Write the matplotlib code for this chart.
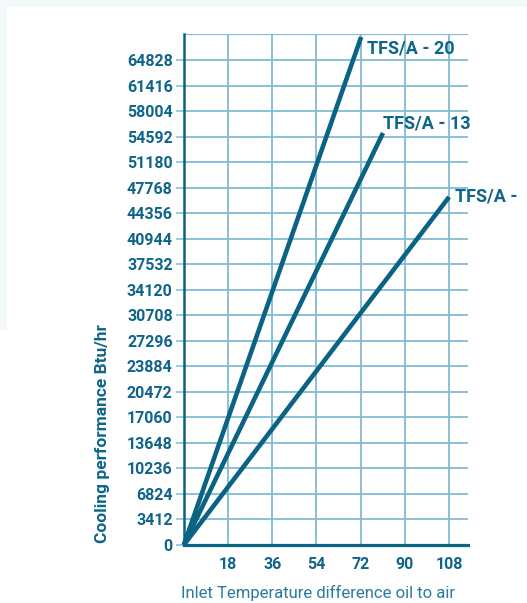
import matplotlib
matplotlib.use("Agg")
import matplotlib.pyplot as plt
from matplotlib.patches import Rectangle

# ---- data ----
series_names = ["TFS/A - 20", "TFS/A - 13", "TFS/A -"]
series_x = [[0, 72.2], [0, 81.1], [0, 108.0]]
series_y = [[0, 67900], [0, 55070], [0, 46520]]
y_ticks = [0, 3412, 6824, 10236, 13648, 17060, 20472, 23884, 27296, 30708,
           34120, 37532, 40944, 44356, 47768, 51180, 54592, 58004, 61416, 64828]
x_ticks = [18, 36, 54, 72, 90, 108]
x_label = "Inlet Temperature difference oil to air"
y_label = "Cooling performance Btu/hr"

DARK = "#0b6384"
GRID = "#80bcd4"
TXT = "#0f6589"
FAM = ["Roboto", "DejaVu Sans"]

W, H = 527, 603
fig = plt.figure(figsize=(W / 100, H / 100), dpi=100, facecolor="white")
# faint light border strips
fig.patches.append(Rectangle((0, 1 - 7 / H), 1, 7 / H, transform=fig.transFigure,
                             facecolor="#f3f8fb", edgecolor="none", zorder=-10))
fig.patches.append(Rectangle((0, 1 - 330 / H), 7 / W, 330 / H, transform=fig.transFigure,
                             facecolor="#f3f8fb", edgecolor="none", zorder=-10))

ax = fig.add_axes([183.8 / W, 1 - 545 / H, (468 - 183.8) / W, (545 - 34) / H])
ax.set_xlim(0, 115.7)
ax.set_ylim(0, 68300)

ax.set_yticks(y_ticks)
ax.set_xticks(x_ticks)
ax.set_yticklabels([str(v) for v in y_ticks])
ax.set_xticklabels([str(v) for v in x_ticks])
ax.grid(True, color=GRID, linewidth=1.3, zorder=0)
# top boundary line like a grid line
ax.axhline(68240, color=GRID, linewidth=1.6, zorder=1)

for s in ["right", "top"]:
    ax.spines[s].set_visible(False)
ax.spines["left"].set_color(DARK)
ax.spines["left"].set_linewidth(1.8)
ax.spines["bottom"].set_color(DARK)
ax.spines["bottom"].set_linewidth(2.3)
ax.spines["left"].set_zorder(5)
ax.spines["bottom"].set_zorder(5)

ax.tick_params(axis="y", length=6, width=1.1, color=GRID, pad=2,
               labelcolor=TXT, labelsize=11.5)
ax.tick_params(axis="x", length=0, pad=8.5, labelcolor=TXT, labelsize=11.5)
for lab in ax.get_yticklabels() + ax.get_xticklabels():
    lab.set_family(FAM)
    lab.set_fontweight("bold")

offsets = [(4, -8), (0, 7), (4, 0)]
for name, xs, ys, off in zip(series_names, series_x, series_y, offsets):
    ax.plot(xs, ys, color=DARK, linewidth=3.3, solid_capstyle="butt", zorder=4, clip_on=False)
    ax.annotate(name, xy=(xs[-1], ys[-1]), xytext=off, textcoords="offset points",
                ha="left", va="center", fontsize=13, fontweight="bold", color=TXT,
                family=FAM, annotation_clip=False)

fig.text(318 / W, 1 - 593 / H, x_label, ha="center", va="center", fontsize=12,
         color="#2a7a9c", family=FAM)
fig.text(103 / W, 1 - 434 / H, y_label, ha="center", va="center", rotation=90,
         fontsize=12.5, fontweight="bold", color=TXT, family=FAM)

fig.savefig("out.png", dpi=100, facecolor="white")
